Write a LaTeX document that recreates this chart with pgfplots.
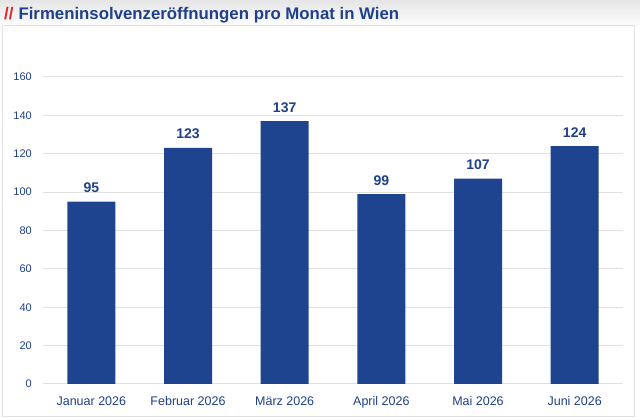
\documentclass[border=0pt]{standalone}
\usepackage{fontspec}
\setmainfont{Liberation Sans}
\usepackage{pgfplots}
\pgfplotsset{compat=1.18}
\definecolor{barblue}{RGB}{30,68,144}
\definecolor{txtblue}{RGB}{31,64,140}
\definecolor{gridgray}{RGB}{224,224,224}
\definecolor{slashred}{RGB}{222,40,40}
\begin{document}
\begin{tikzpicture}
\useasboundingbox (-43bp,-36bp) rectangle (597bp,384bp);
\shade[top color=black!10, bottom color=white] (-43bp,356bp) rectangle (597bp,384bp);
\fill[white] (-40bp,-32bp) rectangle (591bp,358bp);
\draw[gridgray, line width=1bp] (-40bp,-32bp) rectangle (591bp,358bp);
\node[anchor=base west, inner sep=0, font=\fontsize{16.8bp}{18bp}\selectfont\bfseries] at (-39bp,364bp) {\textcolor{slashred}{//}\hspace{5bp}\textcolor{txtblue}{Firmeninsolvenzeröffnungen pro Monat in Wien}};
\begin{axis}[
  at={(0,0)}, anchor=south west,
  scale only axis, width=580bp, height=307bp,
  xmin=-0.5, xmax=5.5, ymin=0, ymax=160,
  ytick={0,20,...,160},
  xtick=data,
  xticklabels={Januar 2026, Februar 2026, März 2026, April 2026, Mai 2026, Juni 2026},
  ybar, bar width=48bp,
  axis line style={draw=none},
  major tick length=0,
  ymajorgrids, grid style={gridgray, line width=1bp},
  yticklabel style={anchor=east, inner sep=0, xshift=-11bp, font=\fontsize{11bp}{13bp}\selectfont, text=txtblue},
  xticklabel style={anchor=base, inner sep=0, yshift=-22bp, font=\fontsize{12.5bp}{14bp}\selectfont, text=txtblue},
  /pgf/number format/assume math mode=true,
  nodes near coords,
  every node near coord/.append style={anchor=base, inner sep=0, yshift=9bp, font=\fontsize{14bp}{16bp}\selectfont\bfseries, text=txtblue},
]
\addplot[fill=barblue, draw=none] coordinates {(0,95) (1,123) (2,137) (3,99) (4,107) (5,124)};
\end{axis}
\end{tikzpicture}
\end{document}
